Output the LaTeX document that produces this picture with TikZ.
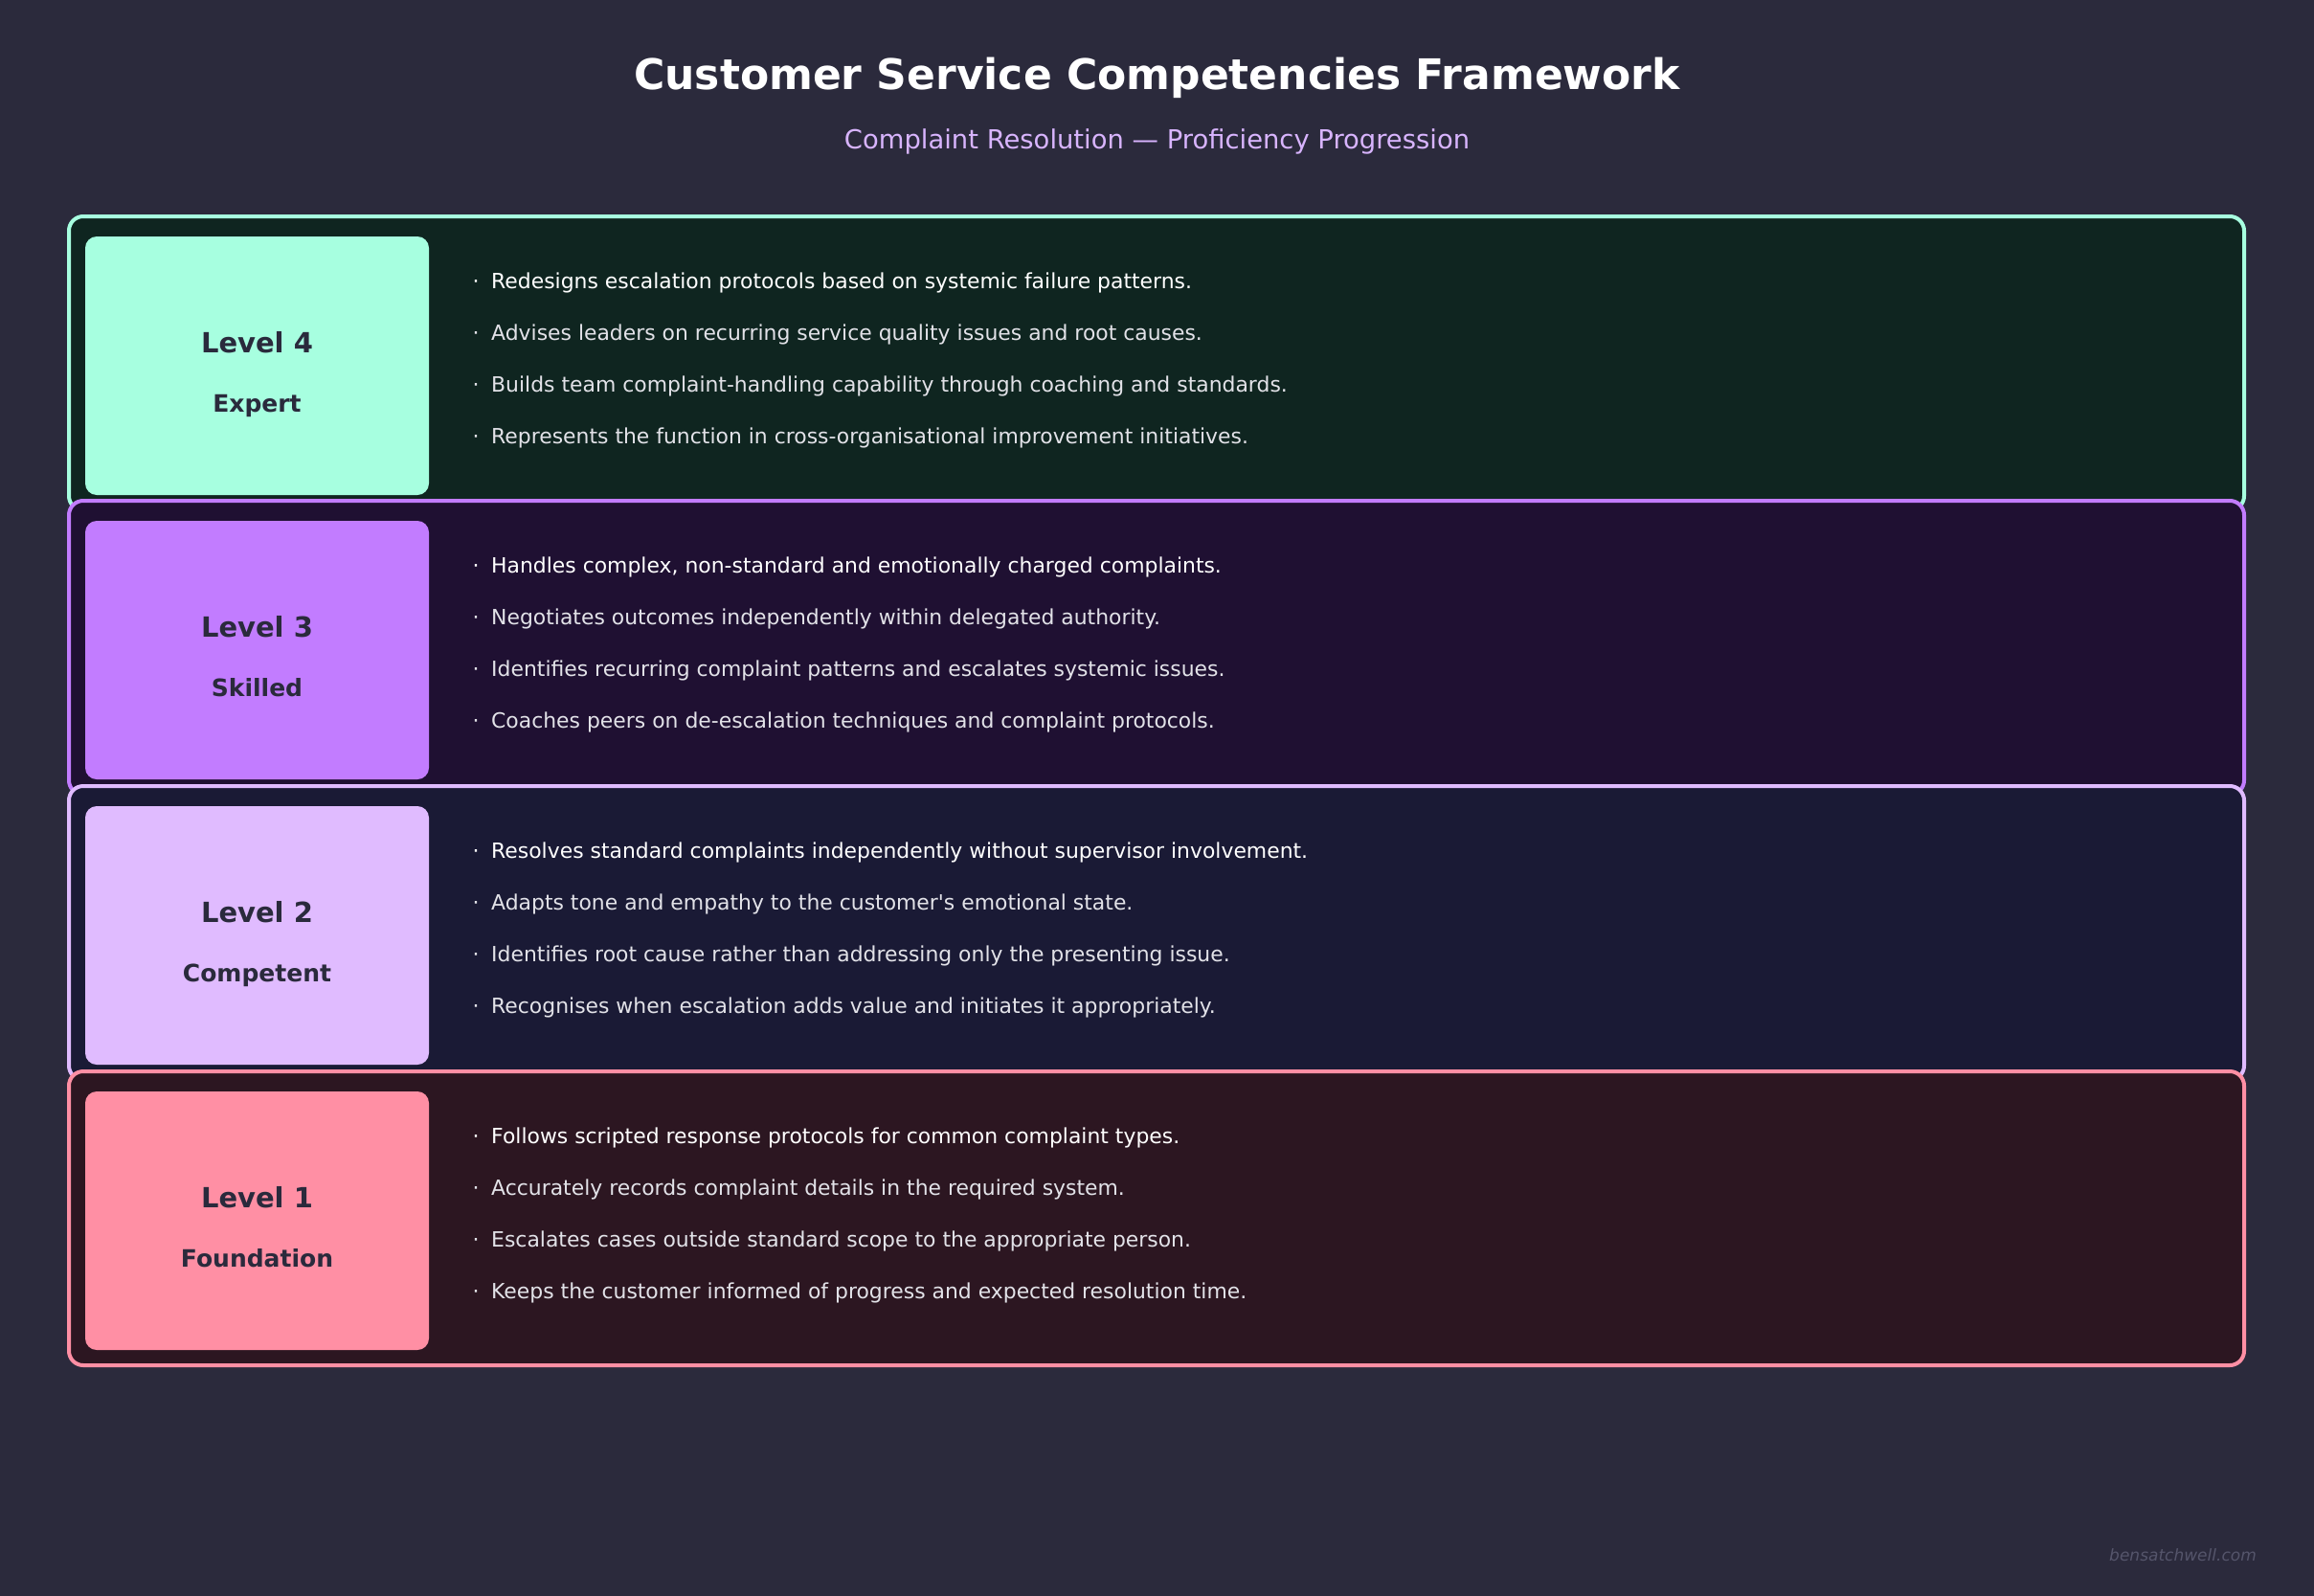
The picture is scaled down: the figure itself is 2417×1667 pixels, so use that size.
\documentclass[tikz,border=0pt]{standalone}
\usepackage{fontspec}
\setmainfont{DejaVu Sans}
\definecolor{bgc}{HTML}{2B2A3C}
\definecolor{darktxt}{HTML}{2A2A3C}
\definecolor{subc}{HTML}{D8B4FE}
\definecolor{bulw}{HTML}{FFFFFF}
\definecolor{bulg}{HTML}{E2E2E8}
\definecolor{wmark}{HTML}{55556B}
\definecolor{cgreen}{HTML}{A7FFE0}
\definecolor{cgreenbg}{HTML}{0F2520}
\definecolor{cpurple}{HTML}{C27CFF}
\definecolor{cpurplebg}{HTML}{1F1032}
\definecolor{clav}{HTML}{E0BBFF}
\definecolor{clavbg}{HTML}{1A1A35}
\definecolor{cpink}{HTML}{FF8FA4}
\definecolor{cpinkbg}{HTML}{2C1621}
\tikzset{
  panel/.style={line width=4pt, rounded corners=15pt},
  levbox/.style={rectangle, rounded corners=12pt, inner sep=0pt, minimum width=359pt, minimum height=270pt},
  levtitle/.style={anchor=base, inner sep=0pt, text=darktxt, font=\bfseries\fontsize{29}{35}\selectfont},
  levname/.style={anchor=base, inner sep=0pt, text=darktxt, font=\bfseries\fontsize{25}{30}\selectfont},
  bdot/.style={anchor=base, inner sep=0pt, font=\fontsize{22}{26}\selectfont},
  btext/.style={anchor=base west, inner sep=0pt, font=\fontsize{21.9}{26}\selectfont},
}
\begin{document}
\begin{tikzpicture}[x=1pt,y=-1pt]
\fill[bgc] (0,0) rectangle (2417,1667);
\useasboundingbox (0,0) rectangle (2417,1667);
\node[anchor=base, inner sep=0pt, text=white, font=\bfseries\fontsize{44}{53}\selectfont] (title) at (1208.5,94) {Customer Service Competencies Framework};
\node[anchor=base, inner sep=0pt, text=subc, font=\fontsize{27.4}{33}\selectfont] (subtitle) at (1208.5,156) {Complaint Resolution — Proficiency Progression};

% Level 4
\begin{scope}[shift={(0,224)}]
\draw[panel, draw=cgreen, fill=cgreenbg] (72,2) rectangle (2344,309);
\node[levbox, fill=cgreen] (box4) at (268.5,158) {};
\node[levtitle] (lvl4) at (268.5,144.5) {Level 4};
\node[levname] (name4) at (268.5,206) {Expert};
\node[bdot, text=bulw] (d4a) at (497,77) {·};
\node[btext, text=bulw] (t4a) at (513,77) {Redesigns escalation protocols based on systemic failure patterns.};
\node[bdot, text=bulg] (d4b) at (497,131) {·};
\node[btext, text=bulg] (t4b) at (513,131) {Advises leaders on recurring service quality issues and root causes.};
\node[bdot, text=bulg] (d4c) at (497,185) {·};
\node[btext, text=bulg] (t4c) at (513,185) {Builds team complaint-handling capability through coaching and standards.};
\node[bdot, text=bulg] (d4d) at (497,239) {·};
\node[btext, text=bulg] (t4d) at (513,239) {Represents the function in cross-organisational improvement initiatives.};
\end{scope}

% Level 3
\begin{scope}[shift={(0,521)}]
\draw[panel, draw=cpurple, fill=cpurplebg] (72,2) rectangle (2344,309);
\node[levbox, fill=cpurple] (box3) at (268.5,158) {};
\node[levtitle] (lvl3) at (268.5,144.5) {Level 3};
\node[levname] (name3) at (268.5,206) {Skilled};
\node[bdot, text=bulw] (d3a) at (497,77) {·};
\node[btext, text=bulw] (t3a) at (513,77) {Handles complex, non-standard and emotionally charged complaints.};
\node[bdot, text=bulg] (d3b) at (497,131) {·};
\node[btext, text=bulg] (t3b) at (513,131) {Negotiates outcomes independently within delegated authority.};
\node[bdot, text=bulg] (d3c) at (497,185) {·};
\node[btext, text=bulg] (t3c) at (513,185) {Identifies recurring complaint patterns and escalates systemic issues.};
\node[bdot, text=bulg] (d3d) at (497,239) {·};
\node[btext, text=bulg] (t3d) at (513,239) {Coaches peers on de-escalation techniques and complaint protocols.};
\end{scope}

% Level 2
\begin{scope}[shift={(0,819)}]
\draw[panel, draw=clav, fill=clavbg] (72,2) rectangle (2344,309);
\node[levbox, fill=clav] (box2) at (268.5,158) {};
\node[levtitle] (lvl2) at (268.5,144.5) {Level 2};
\node[levname] (name2) at (268.5,206) {Competent};
\node[bdot, text=bulw] (d2a) at (497,77) {·};
\node[btext, text=bulw] (t2a) at (513,77) {Resolves standard complaints independently without supervisor involvement.};
\node[bdot, text=bulg] (d2b) at (497,131) {·};
\node[btext, text=bulg] (t2b) at (513,131) {Adapts tone and empathy to the customer\textquotesingle s emotional state.};
\node[bdot, text=bulg] (d2c) at (497,185) {·};
\node[btext, text=bulg] (t2c) at (513,185) {Identifies root cause rather than addressing only the presenting issue.};
\node[bdot, text=bulg] (d2d) at (497,239) {·};
\node[btext, text=bulg] (t2d) at (513,239) {Recognises when escalation adds value and initiates it appropriately.};
\end{scope}

% Level 1
\begin{scope}[shift={(0,1117)}]
\draw[panel, draw=cpink, fill=cpinkbg] (72,2) rectangle (2344,309);
\node[levbox, fill=cpink] (box1) at (268.5,158) {};
\node[levtitle] (lvl1) at (268.5,144.5) {Level 1};
\node[levname] (name1) at (268.5,206) {Foundation};
\node[bdot, text=bulw] (d1a) at (497,77) {·};
\node[btext, text=bulw] (t1a) at (513,77) {Follows scripted response protocols for common complaint types.};
\node[bdot, text=bulg] (d1b) at (497,131) {·};
\node[btext, text=bulg] (t1b) at (513,131) {Accurately records complaint details in the required system.};
\node[bdot, text=bulg] (d1c) at (497,185) {·};
\node[btext, text=bulg] (t1c) at (513,185) {Escalates cases outside standard scope to the appropriate person.};
\node[bdot, text=bulg] (d1d) at (497,239) {·};
\node[btext, text=bulg] (t1d) at (513,239) {Keeps the customer informed of progress and expected resolution time.};
\end{scope}

\node[anchor=base east, inner sep=0pt, text=wmark, font=\itshape\fontsize{17}{20}\selectfont] (wm) at (2357,1630) {bensatchwell.com};
\end{tikzpicture}
\end{document}
